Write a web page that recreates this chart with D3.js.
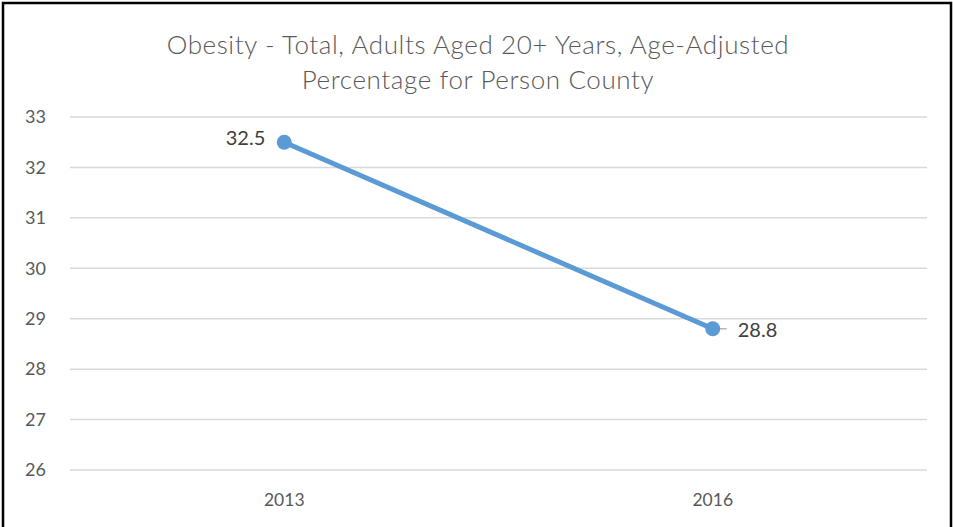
<!DOCTYPE html>
<html>
<head>
<meta charset="utf-8">
<script src="https://cdn.jsdelivr.net/npm/d3@7"></script>
<style>
  html, body { margin: 0; padding: 0; background: #fff; }
  svg { display: block; }
</style>
</head>
<body>
<svg id="chart" width="953" height="527"></svg>
<script>
// Obesity percentage, Person County
const years = ["2013", "2016"];
const values = [32.5, 28.8];
const yTicks = [26, 27, 28, 29, 30, 31, 32, 33];
const titleLines = [
  "Obesity - Total, Adults Aged 20+ Years, Age-Adjusted",
  "Percentage for Person County"
];

const W = 953, H = 527;
const margin = { top: 117, right: 26, bottom: 57, left: 70 };
const font = "Lato, 'Open Sans', sans-serif";
const lineColor = "#5B9BD5";
const textColor = "#404040";

const svg = d3.select("#chart");

svg.append("rect")
  .attr("x", 0).attr("y", 0).attr("width", W).attr("height", H)
  .attr("fill", "#fff");

// outer frame (open at the bottom edge)
svg.append("path")
  .attr("d", `M3,${H + 5} L3,3 L951,3 L951,${H + 5}`)
  .attr("fill", "none")
  .attr("stroke", "#000")
  .attr("stroke-width", 2.5);

const x = d3.scaleBand()
  .domain(years)
  .range([margin.left, W - margin.right]);

const y = d3.scaleLinear()
  .domain([26, 33])
  .range([H - margin.bottom, margin.top]);

// title
svg.append("g")
  .selectAll("text")
  .data(titleLines)
  .join("text")
  .attr("x", 478)
  .attr("y", (d, i) => 54 + i * 35)
  .attr("text-anchor", "middle")
  .attr("font-family", font)
  .attr("font-size", 26)
  .attr("font-weight", 300)
  .attr("letter-spacing", 0.6)
  .attr("fill", "#595959")
  .text(d => d);

// horizontal gridlines
svg.append("g")
  .selectAll("line")
  .data(yTicks)
  .join("line")
  .attr("x1", margin.left)
  .attr("x2", W - margin.right)
  .attr("y1", d => y(d))
  .attr("y2", d => y(d))
  .attr("stroke", "#d9d9d9")
  .attr("stroke-width", 1.5);

// y axis labels
const yAxis = svg.append("g")
  .attr("transform", `translate(${margin.left},0)`)
  .call(d3.axisLeft(y).tickValues(yTicks).tickFormat(d3.format("d")).tickSize(0).tickPadding(24));
yAxis.select(".domain").remove();
yAxis.selectAll("text")
  .attr("font-family", font)
  .attr("font-size", 18)
  .attr("fill", "#595959");

// x axis labels
const xAxis = svg.append("g")
  .attr("transform", `translate(0,${H - margin.bottom})`)
  .call(d3.axisBottom(x).tickSize(0).tickPadding(24));
xAxis.select(".domain").remove();
xAxis.selectAll("text")
  .attr("font-family", font)
  .attr("font-size", 17.5)
  .attr("fill", "#595959");

const pts = years.map((yr, i) => ({ yr, v: values[i] }));
const cx = d => x(d.yr) + x.bandwidth() / 2;

// series line
svg.append("path")
  .datum(pts)
  .attr("fill", "none")
  .attr("stroke", lineColor)
  .attr("stroke-width", 5)
  .attr("stroke-linecap", "round")
  .attr("d", d3.line().x(cx).y(d => y(d.v)));

// leader line for the second label
svg.append("line")
  .attr("x1", cx(pts[1])).attr("x2", cx(pts[1]) + 14)
  .attr("y1", y(pts[1].v)).attr("y2", y(pts[1].v))
  .attr("stroke", "#a6a6a6")
  .attr("stroke-width", 1.2);

// markers
svg.append("g")
  .selectAll("circle")
  .data(pts)
  .join("circle")
  .attr("cx", cx)
  .attr("cy", d => y(d.v))
  .attr("r", 7.5)
  .attr("fill", lineColor);

// data labels
svg.append("g")
  .selectAll("text")
  .data(pts)
  .join("text")
  .attr("x", (d, i) => i === 0 ? cx(d) - 19 : cx(d) + 25)
  .attr("y", (d, i) => y(d.v) + (i === 0 ? -4 : 1))
  .attr("dy", "0.35em")
  .attr("text-anchor", (d, i) => i === 0 ? "end" : "start")
  .attr("font-family", font)
  .attr("font-size", 20)
  .attr("fill", textColor)
  .text(d => d.v.toFixed(1));
</script>
</body>
</html>
